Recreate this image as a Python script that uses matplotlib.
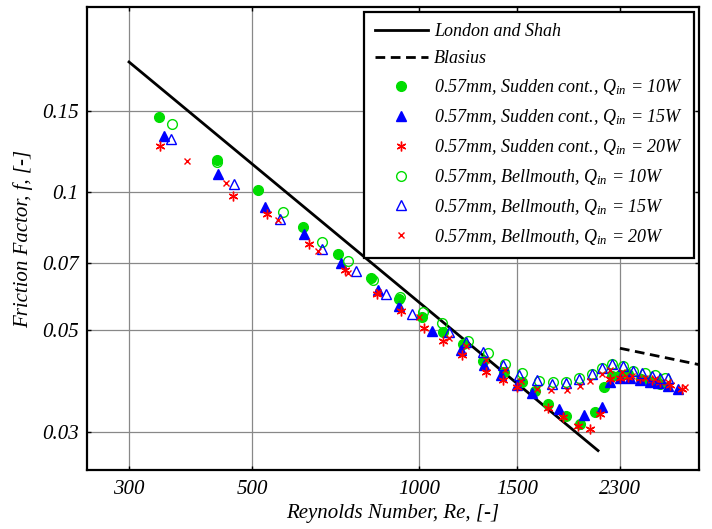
import numpy as np
import matplotlib
matplotlib.use("Agg")
import matplotlib.pyplot as plt

plt.rcParams['font.family'] = 'Liberation Serif'
plt.rcParams['font.style'] = 'italic'
plt.rcParams['mathtext.fontset'] = 'custom'
plt.rcParams['mathtext.rm'] = 'Liberation Serif:italic'
plt.rcParams['mathtext.it'] = 'Liberation Serif:italic'

#### DATA ####
# Sudden contraction, 10W
re_sc10 = [340, 432, 512, 618, 714, 819, 920, 1012, 1104, 1199, 1303, 1422, 1532, 1617,
           1707, 1839, 1949, 2075, 2153, 2225, 2300, 2378, 2509, 2605, 2715]
f_sc10 = [0.145, 0.117, 0.101, 0.0837, 0.0732, 0.065, 0.0585, 0.0534, 0.0496, 0.0465, 0.0429,
          0.0406, 0.0385, 0.0368, 0.0345, 0.0325, 0.0312, 0.0331, 0.0375, 0.0398, 0.0400,
          0.0402, 0.0391, 0.0385, 0.0381]
# Sudden contraction, 15W
re_sc15 = [347, 434, 527, 620, 723, 843, 920, 1055, 1189, 1308, 1404, 1500, 1597, 1786,
           1981, 2135, 2207, 2300, 2397, 2499, 2605, 2693, 2807, 2926]
f_sc15 = [0.1318, 0.1091, 0.0925, 0.0809, 0.0700, 0.0611, 0.0564, 0.0498, 0.0453, 0.0419,
          0.0400, 0.0379, 0.0364, 0.0336, 0.0327, 0.0340, 0.0385, 0.0393, 0.0394, 0.0389,
          0.0385, 0.0383, 0.0377, 0.0372]
# Sudden contraction, 20W
re_sc20 = [341, 462, 532, 633, 735, 839, 927, 1020, 1104, 1194, 1319, 1416, 1500, 1707,
           1816, 1933, 2031, 2117, 2207, 2300, 2378, 2499, 2627, 2715, 2830, 2975]
f_sc20 = [0.1254, 0.0977, 0.0893, 0.0769, 0.0676, 0.0599, 0.0551, 0.0506, 0.0472, 0.0442,
          0.0406, 0.0389, 0.0375, 0.0339, 0.0324, 0.0309, 0.0304, 0.0329, 0.0391, 0.0394,
          0.0396, 0.0393, 0.0389, 0.0385, 0.0379, 0.0373]
# Bellmouth, 10W
re_bm10 = [359, 432, 568, 668, 744, 826, 923, 1016, 1099, 1224, 1330, 1428, 1532, 1644,
           1742, 1839, 1940, 2048, 2135, 2225, 2329, 2427, 2551, 2659, 2772]
f_bm10 = [0.1406, 0.1157, 0.0902, 0.0777, 0.0707, 0.0643, 0.0590, 0.0548, 0.0519, 0.0474,
          0.0445, 0.0421, 0.0404, 0.0387, 0.0385, 0.0385, 0.0393, 0.0402, 0.0414, 0.0421,
          0.0417, 0.0408, 0.0404, 0.0400, 0.0394]
# Bellmouth, 15W
re_bm15 = [357, 464, 561, 668, 769, 871, 971, 1132, 1214, 1303, 1416, 1513, 1630, 1735,
           1839, 1940, 2048, 2135, 2225, 2329, 2427, 2520, 2627, 2715, 2807]
f_bm15 = [0.1304, 0.1037, 0.0871, 0.0750, 0.0673, 0.0599, 0.0542, 0.0496, 0.0470, 0.0447,
          0.0419, 0.0400, 0.0389, 0.0381, 0.0383, 0.0391, 0.0402, 0.0414, 0.0421, 0.0417,
          0.0408, 0.0404, 0.0398, 0.0394, 0.0393]
# Bellmouth, 20W
re_bm20 = [382, 449, 557, 657, 744, 843, 999, 1132, 1214, 1319, 1428, 1526, 1630, 1728,
           1846, 1949, 2031, 2135, 2207, 2319, 2417, 2551, 2659, 2807, 3013]
f_bm20 = [0.1163, 0.1043, 0.0868, 0.0743, 0.0666, 0.0605, 0.0534, 0.0481, 0.0461, 0.0431,
          0.0410, 0.0387, 0.0372, 0.0370, 0.0370, 0.0377, 0.0387, 0.0402, 0.0410, 0.0406,
          0.0398, 0.0394, 0.0391, 0.0385, 0.0375]

# correlations
ls_const = 57.4          # London and Shah, f = C/Re
re_ls = [300, 2100]
re_bl = [2300, 3200]     # Blasius, f = 0.316 Re^-0.25

xticks = [300, 500, 1000, 1500, 2300]
xtick_labels = ['300', '500', '1000', '1500', '2300']
yticks = [0.03, 0.05, 0.07, 0.1, 0.15]
ytick_labels = ['0.03', '0.05', '0.07', '0.1', '0.15']

fig = plt.figure(figsize=(7.12, 5.29), dpi=100)
ax = fig.add_axes([0.1222, 0.1115, 0.86, 0.8753])

re_l = np.logspace(np.log10(re_ls[0]), np.log10(re_ls[1]), 50)
ax.plot(re_l, ls_const / re_l, 'k-', lw=2, label='London and Shah')
re_b = np.logspace(np.log10(re_bl[0]), np.log10(re_bl[1]), 50)
ax.plot(re_b, 0.316 * re_b ** -0.25, 'k--', lw=2, dashes=(3.5, 2), label='Blasius')

green = '#00dd00'
ax.plot(re_sc10, f_sc10, 'o', color=green, ms=7, mec=green,
        label=r'0.57mm, Sudden cont., $Q_{in}$ = 10W')
ax.plot(re_sc15, f_sc15, '^', color='blue', ms=6.5, mec='blue',
        label=r'0.57mm, Sudden cont., $Q_{in}$ = 15W')
ax.plot(re_sc20, f_sc20, marker=(6, 2, 0), ls='none', color='red', ms=7, mew=1,
        label=r'0.57mm, Sudden cont., $Q_{in}$ = 20W')
ax.plot(re_bm10, f_bm10, 'o', mfc='none', mec=green, ms=7, mew=1,
        label=r'0.57mm, Bellmouth, $Q_{in}$ = 10W')
ax.plot(re_bm15, f_bm15, '^', mfc='none', mec='blue', ms=6.5, mew=1,
        label=r'0.57mm, Bellmouth, $Q_{in}$ = 15W')
ax.plot(re_bm20, f_bm20, 'x', color='red', ms=5, mew=1,
        label=r'0.57mm, Bellmouth, $Q_{in}$ = 20W')

ax.set_xscale('log')
ax.set_yscale('log')
ax.set_xlim(252, 3197)
ax.set_ylim(0.0248, 0.252)
ax.set_xticks(xticks, xtick_labels)
ax.set_yticks(yticks, ytick_labels)
ax.minorticks_off()
ax.tick_params(direction='in', length=3, width=1, top=True, right=True,
               labelsize=15, pad=7.5)
ax.tick_params(axis='y', pad=6)
ax.grid(True, color='#888888', lw=0.9)
for s in ax.spines.values():
    s.set_linewidth(1.6)

ax.set_xlabel('Reynolds Number, Re, [-]', fontsize=15, labelpad=3)
ax.set_ylabel('Friction Factor, f, [-]', fontsize=15, labelpad=6)

leg = ax.legend(loc='upper right', fontsize=13, handlelength=2.9, framealpha=1,
                fancybox=False, edgecolor='black', borderaxespad=0.3,
                labelspacing=0.55, handletextpad=0.35, borderpad=0.6)
leg.get_frame().set_linewidth(1.6)

plt.savefig('out.png', dpi=100)
